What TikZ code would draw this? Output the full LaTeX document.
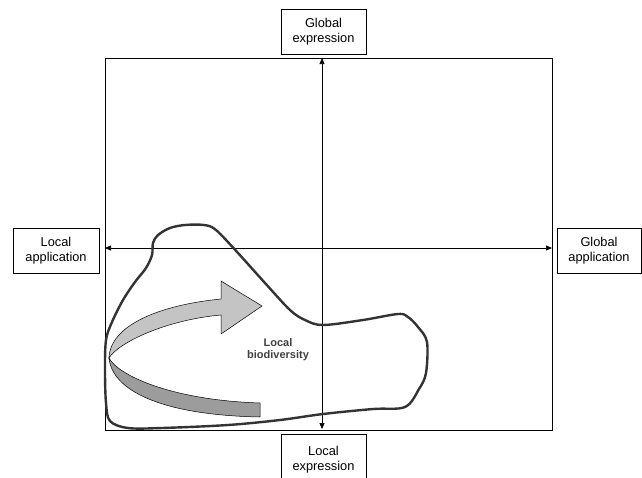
\documentclass[tikz,border=0pt]{standalone}
\usepackage{fontspec}
\setmainfont{Liberation Sans}
\usetikzlibrary{arrows.meta}
\definecolor{lightband}{HTML}{C4C4C4}
\definecolor{darkband}{HTML}{9C9C9C}
\definecolor{blobline}{HTML}{333333}
\definecolor{biotext}{HTML}{404040}
\begin{document}
\begin{tikzpicture}[x=1pt,y=-1pt,
  labelbox/.style={draw=black, line width=0.8pt, fill=white, align=center,
    inner sep=0pt, font=\fontsize{12.8}{15}\selectfont},
  axisarrow/.style={line width=0.7pt,
    {Triangle[length=6pt,width=5pt]}-{Triangle[length=6pt,width=5pt]}},
  frame/.style={line width=0.7pt},
  ribbon/.style={draw=black, line width=0.5pt},
  outline/.style={draw=blobline, line width=2.4pt, line join=round}
]
\clip (0,0) rectangle (642,477);

% quadrant frame
\coordinate (nw) at (105,58);
\coordinate (se) at (552,430);
\draw[frame] (nw) rectangle (se);

% axis end points
\coordinate (vtop) at (322,58);
\coordinate (vbot) at (322,429);
\coordinate (hleft) at (105,248);
\coordinate (hright) at (552,248);

% axis labels
\node[labelbox, minimum width=85pt, minimum height=45pt] (gexp) at (323.5,31.5) {Global\\expression};
\node[labelbox, minimum width=86pt, minimum height=45pt] (lapp) at (56,250.5) {Local\\application};
\node[labelbox, minimum width=84pt, minimum height=45pt] (gapp) at (599,250.5) {Global\\application};
\node[labelbox, minimum width=85pt, minimum height=52pt] (lexp) at (323.5,460) {Local\\expression};

% axes
\draw[axisarrow] (vbot) -- (vtop);
\draw[axisarrow] (hleft) -- (hright);

% twisted arrow: upper light band with head
\coordinate (twist) at (109,358);
\filldraw[ribbon, fill=lightband] (twist)
  .. controls (110,325) and (160,305) .. (221,299)
  -- (221,281) -- (262,306) -- (221,334) -- (221,315)
  .. controls (165,320) and (118,343) .. (twist) -- cycle;
% lower dark band
\filldraw[ribbon, fill=darkband] (twist)
  .. controls (118,375) and (170,400) .. (260,403)
  -- (260,417)
  .. controls (160,415) and (112,390) .. (twist) -- cycle;

% local biodiversity outline
\draw[outline] plot[smooth cycle, tension=0.55] coordinates {
  (153,243) (158,235) (170,228) (185,225) (204,225) (216,230) (238,253)
  (265,283) (290,310) (305,320) (323,325) (363,320) (398,314) (408,317)
  (418,327) (427,342) (426,373) (419,389) (405,407) (373,409) (323,414)
  (280,420) (228,425) (162,428) (128,428) (110,421) (106,403) (105,370)
  (106,340) (112,322) (123,300) (135,282) (146,268) (152,255)};

\node[font=\bfseries\fontsize{11}{12}\selectfont, text=biotext, align=center] (bio) at (278,350) {Local\\biodiversity};
\end{tikzpicture}
\end{document}
